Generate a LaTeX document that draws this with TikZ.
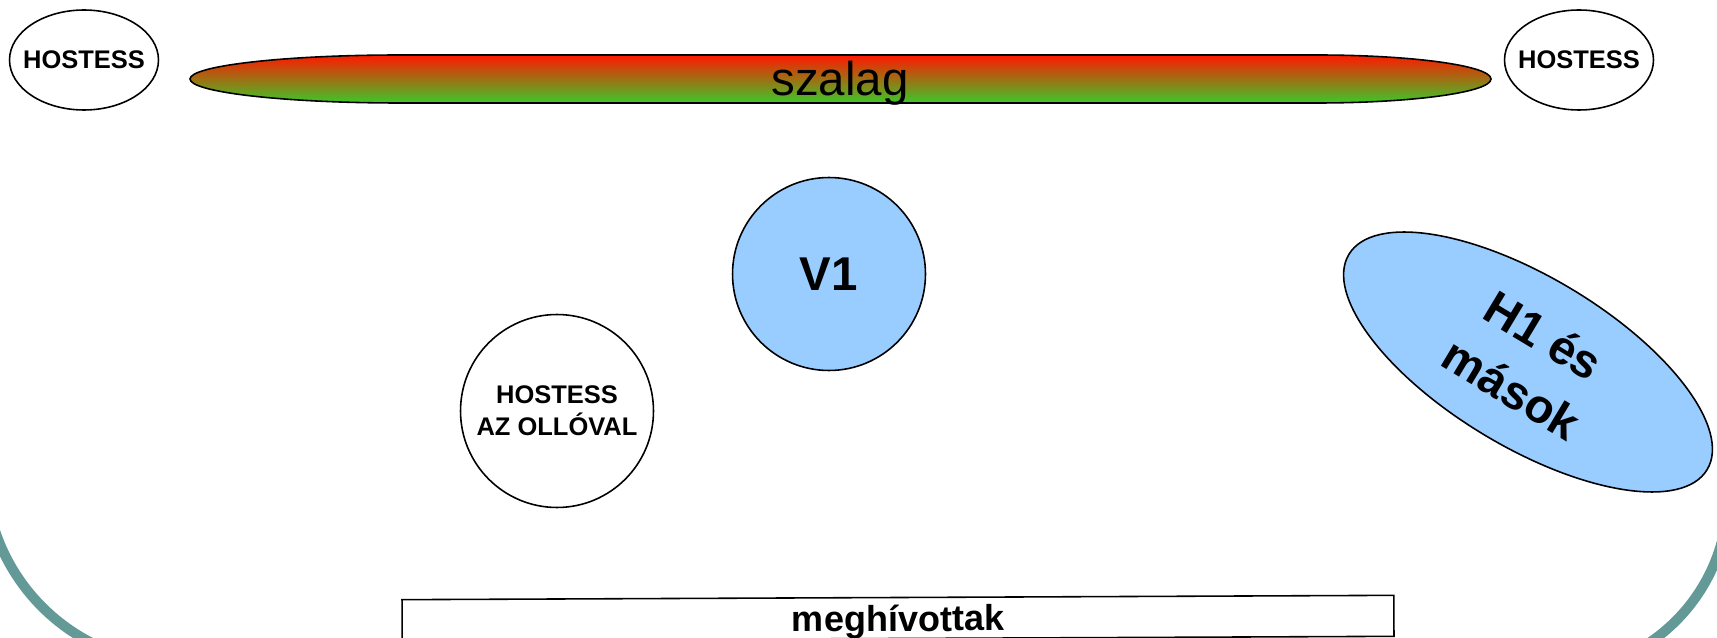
\documentclass[tikz,border=0pt]{standalone}
\usepackage{fontspec}
\setmainfont{Liberation Sans}
\usetikzlibrary{shapes.geometric}
\definecolor{frameteal}{RGB}{99,154,152}
\definecolor{vipblue}{RGB}{153,204,255}
\definecolor{ribbonred}{RGB}{255,25,0}
\definecolor{ribbongreen}{RGB}{60,200,40}

\begin{document}
\begin{tikzpicture}[x=0.02cm, y=-0.02cm, line width=0.9pt,
		frame/.style={frameteal, line width=5.7pt},
		hostess/.style={ellipse, draw, inner xsep=-5pt, inner ysep=0pt, minimum width=2.98cm, minimum height=2cm, font=\fontsize{14.5}{17}\selectfont\bfseries},
		guest/.style={circle, draw, fill=vipblue, inner sep=0pt, font=\fontsize{27}{35.5}\selectfont\bfseries}]
		\useasboundingbox (0,0) rectangle (1717,638);
		\clip (0,0) rectangle (1717,638);
		\draw[frame, rounded corners=3.9cm] (-15,0) -- (-15,664) -- (700,664);
		\draw[frame, rounded corners=3.56cm] (1000,673) -- (1728,673) -- (1728,0);
		\shadedraw[top color=ribbonred, bottom color=ribbongreen] (190,79) .. controls (190,65.8) and (284,55) .. (400,55) -- (1317,55) .. controls (1413,55) and (1491,65.8) .. (1491,79) .. controls (1491,92.2) and (1413,103) .. (1317,103) -- (400,103) .. controls (284,103) and (190,92.2) .. cycle;
		\node[anchor=base, font=\fontsize{27}{32}\selectfont] (szalag) at (840,96) {szalag};
		\node[hostess] (HL) at (84,60) {HOSTESS}; \node[hostess] (HR) at (1579,60) {HOSTESS};
		\node[guest, minimum size=3.86cm] (V1) at (829,274) {V1};
		\node[guest, fill=white, minimum size=3.86cm, align=center, font=\fontsize{14.5}{18.1}\selectfont\bfseries] (HO) at (557,411) {HOSTESS\\AZ OLLÓVAL};
		\node[guest, ellipse, rotate=-31, minimum width=8.36cm, minimum height=3.4cm, align=center] (H1) at (1528,362) {H1 és\\mások};
		\node[draw, rotate=0.25, minimum width=19.84cm, minimum height=0.82cm, inner sep=0pt, text depth=0pt, font=\fontsize{20.5}{24}\selectfont\bfseries] (guests) at (898,618) {meghívottak};
	\end{tikzpicture}
\end{document}
